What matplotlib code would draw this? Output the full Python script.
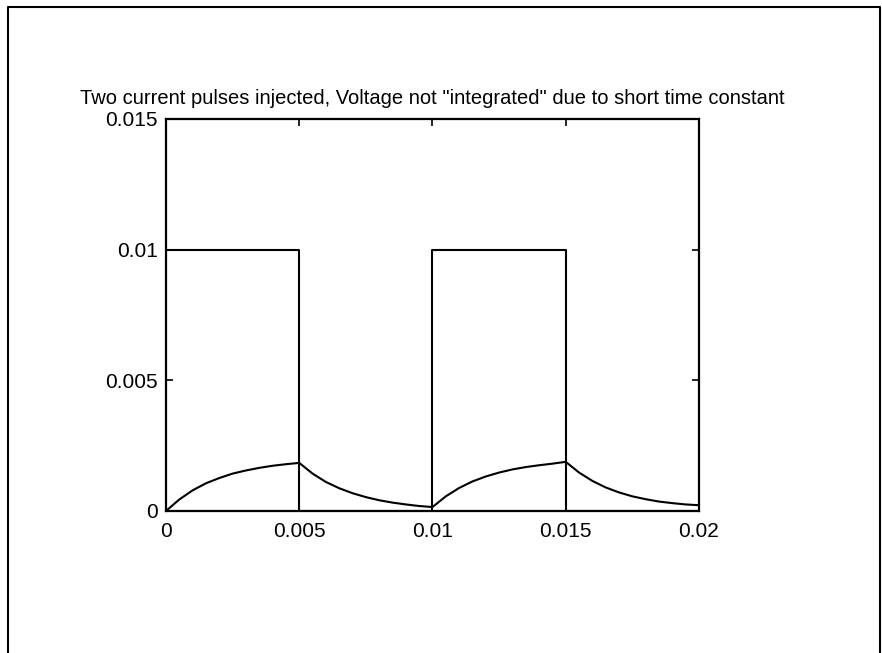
import matplotlib.pyplot as plt
from matplotlib.lines import Line2D

plt.rcParams['font.family'] = ['Liberation Sans', 'DejaVu Sans']

# injected current (two square pulses)
t_current = [0, 0.005, 0.005, 0.01, 0.01, 0.015, 0.015, 0.02]
current = [0.01, 0.01, 0, 0, 0.01, 0.01, 0, 0]

# membrane voltage, every 0.0005 s
t_volt = [i * 0.0005 for i in range(41)]
voltage = [0, 0.00044, 0.00079, 0.00106, 0.00126, 0.00143, 0.00155, 0.00165, 0.00173, 0.00179, 0.00184,
           0.00143, 0.00111, 0.00087, 0.00068, 0.00053, 0.00041, 0.00032, 0.00025, 0.00019, 0.00015,
           0.00056, 0.00088, 0.00113, 0.00132, 0.00147, 0.00159, 0.00168, 0.00175, 0.00181, 0.00188,
           0.00147, 0.00115, 0.00090, 0.00071, 0.00056, 0.00045, 0.00036, 0.00030, 0.00025, 0.00022]

xticks = [0, 0.005, 0.01, 0.015, 0.02]
xtick_labels = ['0', '0.005', '0.01', '0.015', '0.02']
yticks = [0, 0.005, 0.01, 0.015]
ytick_labels = ['0', '0.005', '0.01', '0.015']

fig = plt.figure(figsize=(8.82, 6.53), dpi=100)
ax = fig.add_axes([0.1882, 0.2175, 0.6043, 0.6003])

ax.plot(t_current, current, color='black', lw=1.5)
ax.plot(t_volt, voltage, color='black', lw=1.5)

ax.set_xlim(0, 0.02)
ax.set_ylim(0, 0.015)
ax.set_xticks(xticks)
ax.set_xticklabels(xtick_labels)
ax.set_yticks(yticks)
ax.set_yticklabels(ytick_labels)
ax.tick_params(direction='in', length=5, width=1.2, labelsize=15, top=True, right=True)
ax.tick_params(axis='x', pad=8)
ax.tick_params(axis='y', pad=6)
for s in ax.spines.values():
    s.set_linewidth(1.6)

ax.set_title('Two current pulses injected, Voltage not "integrated" due to short time constant',
             fontsize=14.5, pad=11)

# frame around the page
fx0, fx1, fy1 = 8 / 882, 880 / 882, 1 - 7 / 653
fig.add_artist(Line2D([fx0, fx0, fx1, fx1], [0, fy1, fy1, 0],
                      transform=fig.transFigure, color='black', lw=1.5))

fig.savefig('out.png', dpi=100)
